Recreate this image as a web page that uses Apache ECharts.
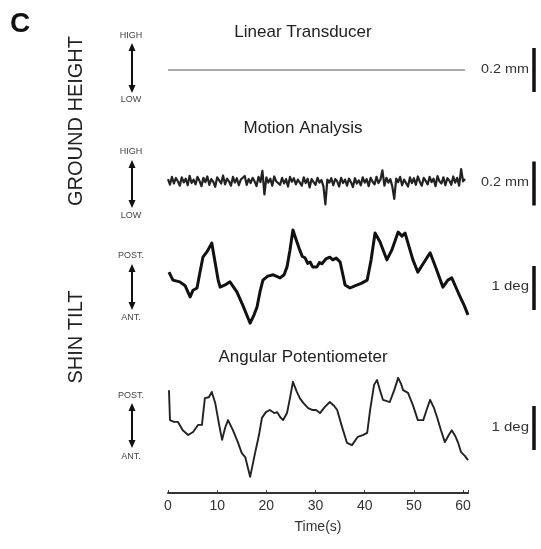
<!DOCTYPE html>
<html>
<head>
<meta charset="utf-8">
<script src="https://cdn.jsdelivr.net/npm/echarts@6/dist/echarts.min.js"></script>
<style>html,body{margin:0;padding:0;background:#fff}#c{width:541px;height:549px}</style>
</head>
<body>
<div id="c"></div>
<script>
// ---------- DATA ----------
var xTicks = [0, 10, 20, 30, 40, 50, 60];

// Linear transducer (mm): flat
var linT = [0, 60.4];
var linV = [0, 0];

// Motion analysis ground height (mm), sampled every 0.4 s
var motionStep = 0.4;
var motionGround = [
 0.020,-0.005,0.030,0.000,0.025,0.010,-0.010,0.028,0.005,0.022,
 -0.008,0.035,0.002,0.018,-0.004,0.030,0.012,-0.012,0.026,0.006,
 0.032,-0.006,0.020,0.008,-0.015,0.028,0.014,0.000,0.036,-0.004,
 0.022,0.010,-0.010,0.030,0.004,0.024,-0.008,0.018,0.012,0.034,
 -0.006,0.020,0.002,0.026,0.010,-0.012,0.030,0.006,0.058,-0.050,
 0.028,0.004,0.022,-0.010,0.032,0.010,0.016,-0.006,0.026,0.000,
 0.020,-0.014,0.030,0.008,0.024,-0.004,0.018,0.012,-0.010,0.028,
 0.002,0.022,-0.018,0.020,0.006,-0.006,0.026,0.004,0.016,-0.012,
 -0.095,0.018,0.004,0.024,-0.008,0.020,0.010,-0.014,0.026,0.002,
 0.018,-0.010,0.022,0.006,-0.016,0.024,0.000,0.014,-0.008,0.028,
 0.004,0.020,-0.012,0.026,0.008,-0.004,0.030,0.002,0.018,0.060,
 -0.010,0.026,0.004,0.020,-0.012,-0.070,0.022,0.006,0.030,-0.008,
 0.018,0.010,-0.014,0.028,0.002,0.024,-0.006,0.032,0.008,-0.010,
 0.026,0.012,-0.004,0.030,0.006,0.022,-0.012,0.034,0.010,0.000,
 0.028,-0.008,0.024,0.014,-0.006,0.032,0.004,0.026,-0.010,0.065,
 0.010,0.020
];

// Motion analysis shin tilt (deg)
var shinMotionT = [0.2,1.0,2.4,3.5,4.5,5.1,5.9,6.5,7.1,7.9,8.9,9.6,10.2,10.6,11.6,12.6,14.0,15.2,16.7,17.5,18.1,18.7,19.3,20.3,21.4,22.8,23.6,24.2,24.8,25.4,26.2,26.8,27.3,27.9,28.4,28.9,29.4,30.3,30.8,31.3,32.1,32.9,33.5,34.2,35.0,36.0,37.0,38.0,39.4,40.5,41.3,42.1,43.1,44.5,45.5,46.8,47.6,48.2,48.8,49.8,50.8,52.1,53.3,54.5,55.9,56.9,57.7,58.6,59.4,60.2,61.0];
var shinMotionV = [0.86,0.68,0.64,0.55,0.30,0.45,0.50,0.86,1.20,1.32,1.52,1.07,0.68,0.52,0.57,0.64,0.41,0.11,-0.30,-0.11,0.07,0.41,0.68,0.77,0.80,0.73,0.80,0.98,1.36,1.82,1.55,1.36,1.22,1.18,1.06,1.09,0.98,0.98,1.08,1.05,1.16,1.20,1.14,1.18,1.09,0.57,0.50,0.55,0.61,0.68,1.14,1.75,1.55,1.14,1.36,1.77,1.68,1.75,1.52,1.14,0.86,1.09,1.30,0.95,0.52,0.68,0.73,0.50,0.30,0.11,-0.11];

// Angular potentiometer shin tilt (deg)
var shinPotT = [0.2,0.4,1.2,2.0,3.0,4.1,5.1,6.1,6.9,7.5,8.3,8.9,9.6,10.4,11.0,11.6,12.2,13.2,14.2,15.0,15.7,16.7,17.7,18.5,19.1,19.9,20.7,21.6,22.2,22.8,23.4,24.2,24.8,25.4,26.2,26.8,27.5,28.5,29.3,30.1,30.9,31.9,32.9,33.8,34.4,35.4,36.4,37.4,38.6,39.6,40.5,41.1,41.9,42.5,43.1,43.7,44.5,45.1,46.0,46.8,47.4,47.8,48.8,49.8,50.8,51.9,52.7,53.3,54.1,54.7,55.5,56.3,57.1,57.7,58.4,59.0,59.6,60.4,61.0];
var shinPotV = [1.36,0.68,0.64,0.64,0.45,0.34,0.41,0.57,0.57,1.18,1.20,1.32,1.07,0.57,0.23,0.50,0.68,0.45,0.18,-0.07,-0.16,-0.61,-0.07,0.34,0.73,0.86,0.91,0.84,0.86,0.75,0.68,0.84,1.18,1.55,1.32,1.18,1.07,0.95,0.91,0.91,0.84,0.98,1.09,1.00,0.91,0.52,0.16,0.11,0.30,0.34,0.39,0.91,1.48,1.59,1.36,1.14,1.11,1.09,1.36,1.64,1.50,1.36,1.30,1.02,0.68,0.68,0.95,1.14,0.95,0.75,0.45,0.18,0.34,0.45,0.32,0.16,-0.05,-0.14,-0.23];

// Scale bars: [bottom, top] in each panel's units
var barMm = [-0.1, 0.1];   // 0.2 mm
var barDeg = [0, 1];       // 1 deg
var barLabels = ['0.2 mm', '0.2 mm', '1 deg', '1 deg'];

// ---------- BUILD ----------
function pairs(t, v) { return t.map(function (x, i) { return [x, v[i]]; }); }
var motionGroundData = motionGround.map(function (v, i) { return [+(i * motionStep).toFixed(2), v]; });
function bar(b) { return [[0, b[0]], [0, b[1]]]; }

var FONT = 'Liberation Sans, Arial, sans-serif';
var L = 168, W = 300;
var panels = [
  { top: 37, height: 66 },
  { top: 150.5, height: 66 },
  { top: 222, height: 110 },
  { top: 370.8, height: 114.4 }
];
var yr = [[-0.15, 0.15], [-0.15, 0.15], [-0.5, 2.0], [-0.8, 1.8]];

var grids = [], xAxes = [], yAxes = [];
panels.forEach(function (p, i) {
  grids.push({ left: L, width: W, top: p.top, height: p.height });
  var last = i === 3;
  xAxes.push({
    gridIndex: i, type: 'value', min: 0, max: 61, interval: 10,
    show: last, offset: last ? 8 : 0,
    axisLine: { show: last, onZero: false, lineStyle: { color: '#333', width: 2 } },
    axisTick: { show: last, inside: true, length: 3, lineStyle: { color: '#333' } },
    splitLine: { show: false },
    axisLabel: {
      show: last, margin: 6, color: '#333', fontSize: 14, fontFamily: FONT,
      formatter: function (v) { return xTicks.indexOf(v) >= 0 ? String(v) : ''; }
    },
    name: last ? 'Time(s)' : '', nameLocation: 'middle', nameGap: 27,
    nameTextStyle: { color: '#333', fontSize: 14, fontFamily: FONT }
  });
  yAxes.push({ gridIndex: i, type: 'value', min: yr[i][0], max: yr[i][1], show: false, splitLine: { show: false } });
});
// scale-bar grids (same vertical scale as each panel)
panels.forEach(function (p, i) {
  grids.push({ left: 531, width: 6, top: p.top, height: p.height });
  xAxes.push({ gridIndex: 4 + i, type: 'value', min: -1, max: 1, show: false });
  yAxes.push({ gridIndex: 4 + i, type: 'value', min: yr[i][0], max: yr[i][1], show: false, splitLine: { show: false } });
});

function lineSeries(i, data, w, color) {
  return {
    type: 'line', xAxisIndex: i, yAxisIndex: i, data: data, showSymbol: false, symbol: 'none',
    lineStyle: { color: color || '#111', width: w, join: 'round' }, animation: false, silent: true
  };
}

var series = [
  lineSeries(0, pairs(linT, linV), 1, '#555'),
  lineSeries(1, motionGroundData, 2.2, '#222'),
  lineSeries(2, pairs(shinMotionT, shinMotionV), 3, '#111'),
  lineSeries(3, pairs(shinPotT, shinPotV), 1.9, '#222'),
  lineSeries(4, bar(barMm), 3.5, '#111'),
  lineSeries(5, bar(barMm), 3.5, '#111'),
  lineSeries(6, bar(barDeg), 3.5, '#111'),
  lineSeries(7, bar(barDeg), 3.5, '#111')
];

function txt(x, y, s, size, opts) {
  opts = opts || {};
  return {
    type: 'text', x: x, y: y, rotation: opts.rot || 0, scaleX: opts.sx || 1, silent: true,
    style: {
      text: s, fill: opts.color || '#222', font: (opts.bold ? 'bold ' : '') + size + 'px ' + FONT,
      textAlign: opts.align || 'center', textVerticalAlign: 'middle'
    }
  };
}
function arrow(x, y1, y2) {
  var h = 6, w = 3.5;
  return [
    { type: 'line', silent: true, shape: { x1: x, y1: y1 + h - 1, x2: x, y2: y2 - h + 1 }, style: { stroke: '#111', lineWidth: 2 } },
    { type: 'polygon', silent: true, shape: { points: [[x, y1], [x - w, y1 + h + 2], [x + w, y1 + h + 2]] }, style: { fill: '#111' } },
    { type: 'polygon', silent: true, shape: { points: [[x, y2], [x - w, y2 - h - 2], [x + w, y2 - h - 2]] }, style: { fill: '#111' } }
  ];
}

var graphic = [
  txt(20, 24, 'C', 28, { bold: true, color: '#111' }),
  txt(303, 32, 'Linear Transducer', 17),
  txt(303, 128, 'Motion Analysis', 17),
  txt(303, 357, 'Angular Potentiometer', 17),
  txt(76, 121, 'GROUND HEIGHT', 20, { rot: Math.PI / 2 }),
  txt(76, 337, 'SHIN TILT', 20, { rot: Math.PI / 2 }),
  txt(131, 36, 'HIGH', 9, { color: '#444' }),
  txt(131, 100, 'LOW', 9, { color: '#444' }),
  txt(131, 152, 'HIGH', 9, { color: '#444' }),
  txt(131, 216, 'LOW', 9, { color: '#444' }),
  txt(131, 256, 'POST.', 9, { color: '#444' }),
  txt(131, 318, 'ANT.', 9, { color: '#444' }),
  txt(131, 396, 'POST.', 9, { color: '#444' }),
  txt(131, 457, 'ANT.', 9, { color: '#444' }),
  txt(529, 70, barLabels[0], 12, { align: 'right', sx: 1.2, color: '#333' }),
  txt(529, 183, barLabels[1], 12, { align: 'right', sx: 1.2, color: '#333' }),
  txt(529, 287, barLabels[2], 12, { align: 'right', sx: 1.25, color: '#333' }),
  txt(529, 428, barLabels[3], 12, { align: 'right', sx: 1.25, color: '#333' })
].concat(arrow(132, 43, 93), arrow(132, 160, 208), arrow(132, 264, 310), arrow(132, 403, 448));

var chart = echarts.init(document.getElementById('c'), null, { renderer: 'canvas' });
chart.setOption({
  backgroundColor: '#fff',
  animation: false,
  grid: grids,
  xAxis: xAxes,
  yAxis: yAxes,
  series: series,
  graphic: graphic
});
</script>
</body>
</html>
